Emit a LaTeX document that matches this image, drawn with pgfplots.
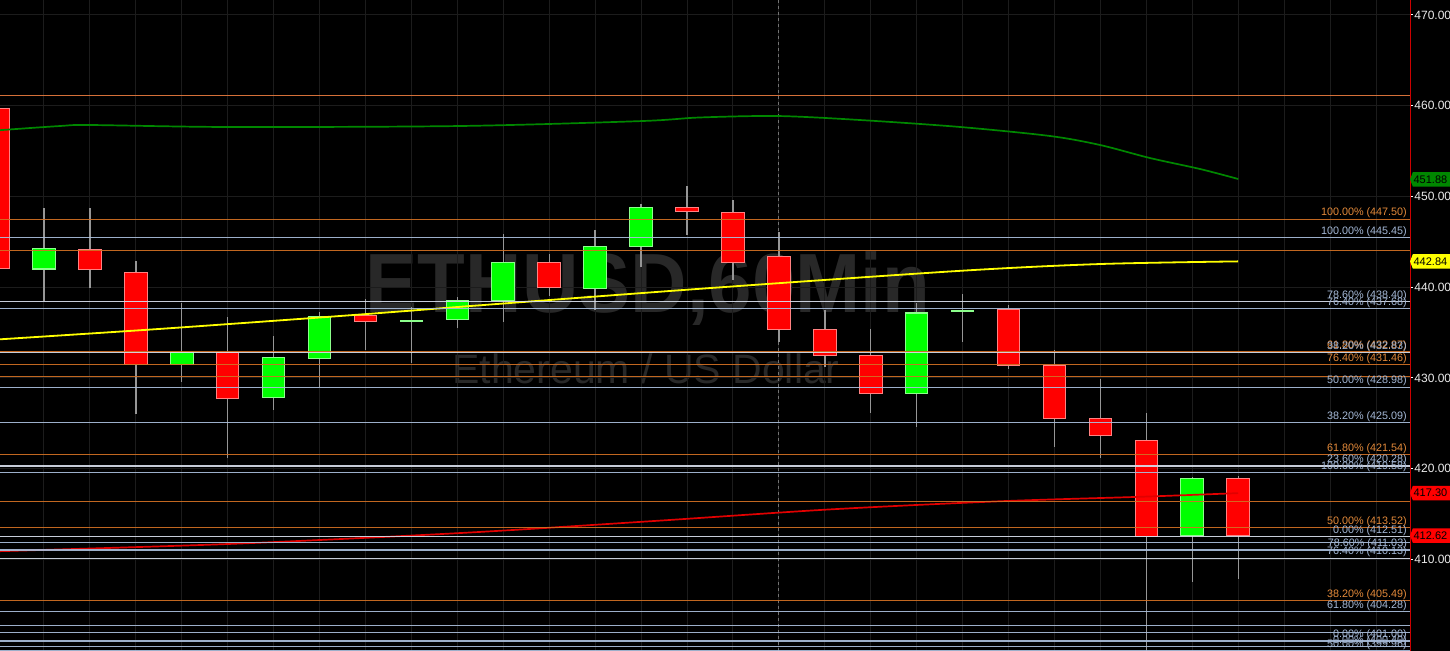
\documentclass[border=0pt]{standalone}
\usepackage{pgfplots}
\pgfplotsset{compat=1.18}
\usepackage{pgfplotstable}
\usepackage{fontspec}
\setmainfont{Liberation Sans}

\definecolor{cRed}{RGB}{255,0,0}
\definecolor{cRedEdge}{RGB}{255,130,130}
\definecolor{cGreen}{RGB}{0,255,0}
\definecolor{cGreenEdge}{RGB}{140,255,140}
\definecolor{wick}{RGB}{150,150,150}
\definecolor{gridc}{RGB}{28,28,28}
\definecolor{fibO}{RGB}{210,112,35}
\definecolor{fibOt}{RGB}{228,138,58}
\definecolor{fibP}{RGB}{232,122,62}
\definecolor{fibB}{RGB}{170,190,220}
\definecolor{fibBt}{RGB}{165,185,215}
\definecolor{fibW}{RGB}{215,222,235}
\definecolor{wm}{RGB}{40,40,40}
\definecolor{maGreen}{RGB}{0,135,0}
\definecolor{maYellow}{RGB}{255,255,0}
\definecolor{maRed}{RGB}{225,0,0}
\definecolor{boxGreen}{RGB}{0,135,0}
\definecolor{boxYellow}{RGB}{255,255,0}
\definecolor{boxRed}{RGB}{255,0,0}

\newcommand{\fibfont}{\fontsize{5.4}{6}\selectfont}
\newcommand{\tickfont}{\fontsize{6}{7}\selectfont}
\newcommand{\boxfont}{\fontsize{5.5}{7}\selectfont}

% candles: index, open, high, low, close
\pgfplotstableread{
i o h l c
0 459.7 460.6 441.6 442.1
2 444.2 448.75 439.9 441.9
3 441.6 442.9 426.0 431.5
5 432.8 436.7 421.2 427.7
8 436.85 438.7 433.1 436.2
12 442.7 443.6 439.0 440.0
15 448.8 451.1 445.8 448.35
16 448.25 449.6 440.8 442.7
17 443.4 446.1 434.0 435.35
18 435.35 437.5 431.2 432.5
19 432.5 435.35 426.1 428.3
22 437.5 438.0 431.0 431.4
23 431.4 433.1 422.4 425.5
24 425.5 429.9 421.2 423.65
25 423.1 426.1 398.0 412.5
27 418.9 419.2 407.8 412.62
}\redtbl

\pgfplotstableread{
i o h l c
1 442.0 448.75 438.5 444.3
4 431.5 438.3 429.6 432.8
6 427.85 434.6 426.5 432.2
7 432.1 437.3 429.0 436.8
9 436.25 437.8 431.6 436.35
10 436.4 438.9 435.5 438.55
11 438.55 445.85 436.2 442.7
13 439.9 446.3 437.5 444.5
14 444.5 449.2 442.25 448.8
20 428.3 438.2 424.55 437.15
21 437.35 439.2 434.0 437.45
26 412.6 419.1 407.5 418.9
}\greentbl

\newcommand{\fib}[2]{\addplot[forget plot, draw=#2, line width=0.6pt, opacity=0.92] coordinates {(0.0435,#1) (30.74,#1)};}
\newcommand{\fiblab}[3]{\node[anchor=base east, inner sep=0pt, text=#2, font=\fibfont, yshift=1.6pt] at (axis cs:30.68,#1) {#3};}

\newcommand{\wicks}[1]{\addplot[forget plot, draw=none, mark=none,
  error bars/.cd, y dir=both, y explicit, error mark=none,
  error bar style={draw=wick, line width=0.7pt}]
  table[x=i, y expr={(\thisrow{h}+\thisrow{l})/2}, y error expr={(\thisrow{h}-\thisrow{l})/2}] {#1};}
\newcommand{\bodies}[3]{%
\addplot[forget plot, draw=none, mark=none,
  error bars/.cd, y dir=both, y explicit, error mark=none,
  error bar style={draw=#3, line width=11.8pt}]
  table[x=i, y expr={(\thisrow{o}+\thisrow{c})/2}, y error expr={abs(\thisrow{c}-\thisrow{o})/2+0.06}] {#1};
\addplot[forget plot, draw=none, mark=none,
  error bars/.cd, y dir=both, y explicit, error mark=none,
  error bar style={draw=#2, line width=10.8pt}]
  table[x=i, y expr={(\thisrow{o}+\thisrow{c})/2}, y error expr={max(abs(\thisrow{c}-\thisrow{o})/2-0.06,0)}] {#1};}

\begin{document}
\begin{tikzpicture}
\useasboundingbox (0,0) rectangle (725pt,325.5pt);
\fill[black] (0,0) rectangle (725pt,325.5pt);
% watermark
\node[anchor=base, inner sep=0pt, text=wm, font=\fontsize{42}{42}\selectfont\bfseries, xscale=0.93] at (324pt,169pt) {ETHUSD,60Min};
\node[anchor=base, inner sep=0pt, text=wm, font=\fontsize{20.5}{21}\selectfont] at (323pt,133.5pt) {Ethereum / US Dollar};

\begin{axis}[
  at={(0,0)}, anchor=south west,
  width=705pt, height=325.5pt, scale only axis,
  xmin=0.0435, xmax=30.74, ymin=399.9, ymax=471.65,
  axis line style={draw=none},
  xtick={0,...,30}, xticklabels={}, xtick style={draw=none},
  ytick={410,420,...,470}, ytick pos=right, yticklabel pos=right,
  tick align=outside, major tick length=1.6pt,
  ytick style={draw=white, line width=0.5pt},
  yticklabel style={font=\tickfont, text=white!92!black, anchor=west, inner sep=0pt, xshift=0.4pt,
    /pgf/number format/fixed, /pgf/number format/fixed zerofill,
    /pgf/number format/precision=2, /pgf/number format/assume math mode=true},
  grid=major, major grid style={draw=gridc, line width=0.5pt},
]
% dashed cursor line
\addplot[forget plot, draw=white!45!black, line width=0.45pt, dash pattern=on 1.5pt off 1.5pt] coordinates {(17,399.9) (17,471.65)};

% candles
\wicks{\redtbl}
\wicks{\greentbl}
\bodies{\redtbl}{cRed}{cRedEdge}
\bodies{\greentbl}{cGreen}{cGreenEdge}

% moving averages
\addplot[forget plot, draw=maGreen, line width=0.85pt, smooth] coordinates {
(0.04,457.3) (1.35,457.76) (2.0,457.87) (5.05,457.65) (10.06,457.76) (13.98,458.3) (15.28,458.7) (16.98,458.86) (18.77,458.42) (20.95,457.65) (22.9,456.66) (23.99,455.67) (25.08,454.23) (26.17,453.02) (27,451.92)};
\addplot[forget plot, draw=maYellow, line width=0.9pt, smooth] coordinates {
(0.04,434.25) (3.53,435.4) (7.66,436.9) (10.49,438.0) (15.5,439.9) (20.95,441.8) (24.0,442.55) (27,442.84)};
\addplot[forget plot, draw=maRed, line width=0.85pt, smooth] coordinates {
(0.04,410.9) (5.05,411.7) (10.06,412.9) (14.2,414.2) (18.1,415.5) (21.8,416.4) (24.9,416.9) (27,417.3)};

% fibonacci levels
\fib{461.15}{fibP}
\fib{447.50}{fibO}
\fib{445.45}{fibB}
\fib{444.05}{fibO}
\fib{438.40}{fibW}
\fib{437.68}{fibB}
\fib{432.87}{fibO}
\fib{432.83}{fibW}
\fib{431.46}{fibO}
\fib{430.15}{fibO}
\fib{428.98}{fibB}
\fib{425.09}{fibB}
\fib{421.54}{fibO}
\fib{420.28}{fibW}
\fib{419.58}{fibB}
\fib{416.40}{fibO}
\fib{413.52}{fibO}
\fib{412.51}{fibW}
\fib{411.85}{fibB}
\fib{411.03}{fibB}
\fib{410.13}{fibW}
\fib{405.49}{fibO}
\fib{404.28}{fibB}
\fib{402.75}{fibB}
\fib{401.90}{fibB}
\fib{401.00}{fibB}
\fib{400.40}{fibB}
\fib{399.96}{fibB}

\fiblab{447.50}{fibOt}{100.00\% (447.50)}
\fiblab{445.45}{fibBt}{100.00\% (445.45)}
\fiblab{438.40}{fibBt}{78.60\% (438.40)}
\fiblab{437.68}{fibBt}{76.40\% (437.68)}
\fiblab{432.87}{fibOt}{61.80\% (432.87)}
\fiblab{432.83}{fibBt}{38.20\% (432.83)}
\fiblab{431.46}{fibOt}{76.40\% (431.46)}
\fiblab{428.98}{fibBt}{50.00\% (428.98)}
\fiblab{425.09}{fibBt}{38.20\% (425.09)}
\fiblab{421.54}{fibOt}{61.80\% (421.54)}
\fiblab{420.28}{fibBt}{23.60\% (420.28)}
\fiblab{419.58}{fibBt}{100.00\% (419.58)}
\fiblab{413.52}{fibOt}{50.00\% (413.52)}
\fiblab{412.51}{fibBt}{0.00\% (412.51)}
\fiblab{411.03}{fibBt}{78.60\% (411.03)}
\fiblab{410.13}{fibBt}{76.40\% (410.13)}
\fiblab{405.49}{fibOt}{38.20\% (405.49)}
\fiblab{404.28}{fibBt}{61.80\% (404.28)}
\fiblab{401.00}{fibBt}{0.00\% (401.00)}
\fiblab{400.40}{fibBt}{0.00\% (400.40)}
\fiblab{399.96}{fibBt}{50.00\% (399.96)}

\coordinate (pG) at (axis cs:30.74,451.88);
\coordinate (pY) at (axis cs:30.74,442.84);
\coordinate (pR1) at (axis cs:30.74,417.30);
\coordinate (pR2) at (axis cs:30.74,412.62);
\coordinate (axTop) at (rel axis cs:1,1);
\coordinate (axBot) at (rel axis cs:1,0);
\end{axis}

\draw[draw=red!80!black, line width=0.5pt] (axBot) -- (axTop);

\foreach \p/\c/\t in {pG/boxGreen/451.88, pY/boxYellow/442.84, pR1/boxRed/417.30, pR2/boxRed/412.62}{
  \fill[\c] (\p) -- ++(1.4pt,3.6pt) -- ++(20pt,0) -- ++(0,-7.2pt) -- ++(-20pt,0) -- cycle;
  \node[anchor=west, inner sep=0pt, text=black, font=\boxfont] at ([xshift=1.6pt]\p) {\t};
}
\end{tikzpicture}
\end{document}
